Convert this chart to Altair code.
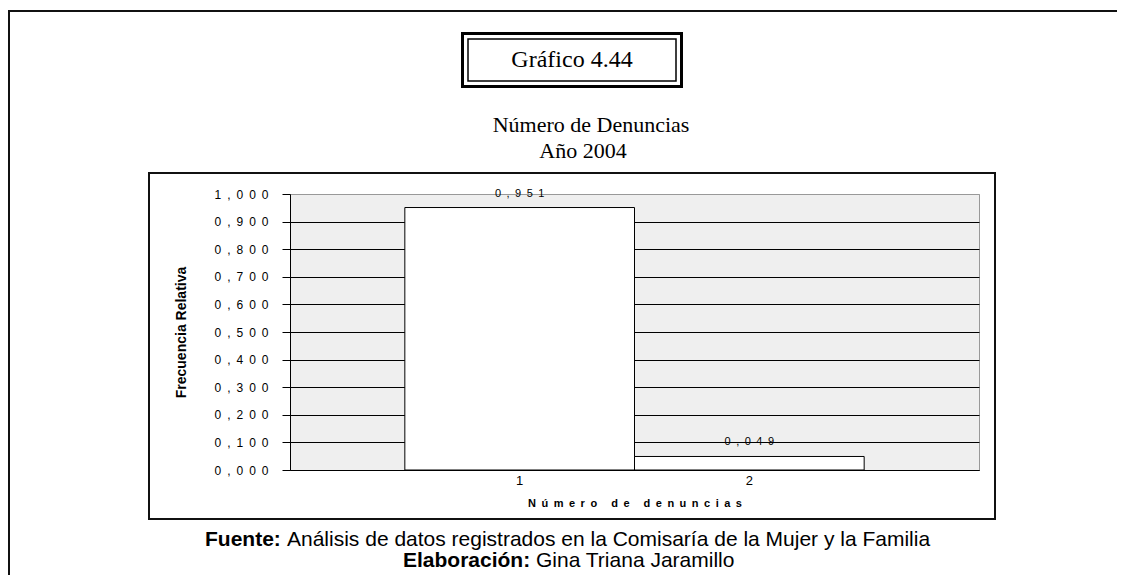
import altair as alt
import pandas as pd

# ---- data ----
categories = ["1", "2"]
frequencies = [0.951, 0.049]
y_ticks = [0.0, 0.1, 0.2, 0.3, 0.4, 0.5, 0.6, 0.7, 0.8, 0.9, 1.0]

chart_label = "Gráfico 4.44"
title_line1 = "Número de Denuncias"
title_line2 = "Año 2004"
x_title = "Número de denuncias"
y_title = "Frecuencia Relativa"
source_bold = "Fuente:"
source_text = "Análisis de datos registrados en la Comisaría de la Mujer y la Familia"
author_bold = "Elaboración:"
author_text = "Gina Triana Jaramillo"

SANS = "Liberation Sans"
SERIF = "Liberation Serif"
EN = "\u2002"

W, H = 689, 276

df = pd.DataFrame({"cat": categories, "val": frequencies})
one = pd.DataFrame({"k": [0]})


def frame(x, x2, y, y2, sw, color="black"):
    return alt.Chart(one).mark_rect(filled=False, stroke=color, strokeWidth=sw).encode(
        x=alt.value(x), x2=alt.value(x2), y=alt.value(y), y2=alt.value(y2)
    )


def label(txt, x, y, size, font=SANS, bold=False, align="center"):
    return alt.Chart(one).mark_text(
        text=txt, font=font, fontSize=size, fontWeight="bold" if bold else "normal",
        align=align, baseline="middle", color="black"
    ).encode(x=alt.value(x), y=alt.value(y))


outer_frame = frame(-281, 900, -183, 450, 2, "#111111")
inner_box = frame(-141, 705, -21, 325, 2, "#111111")
box_outer = frame(172.5, 391.5, -160.5, -107.5, 3)
box_inner = frame(178, 386, -155, -113, 1.5)

y_label_expr = f"join(split(replace(format(datum.value, '.3f'), '.', ','), ''), '{EN}')"
value_expr = f"join(split(replace(format(datum.val, '.3f'), '.', ','), ''), '{EN}')"

base = alt.Chart(df).transform_calculate(lab=value_expr).encode(
    x=alt.X(
        "cat:N",
        sort=categories,
        scale=alt.Scale(paddingInner=0, paddingOuter=0.5),
        axis=alt.Axis(
            title=EN.join(x_title), titleFont=SANS, titleFontSize=11, titleFontWeight="bold",
            titleX=W / 2, titleY=33, titleBaseline="middle", titleAlign="center",
            labelAngle=0, labelFont=SANS, labelFontSize=13, labelColor="black",
            labelPadding=4, ticks=False, domainColor="black", domainWidth=1,
            grid=False,
        ),
    ),
    y=alt.Y(
        "val:Q",
        scale=alt.Scale(domain=[0, 1], nice=False, zero=True),
        axis=alt.Axis(
            values=y_ticks, labelExpr=y_label_expr, labelFont=SANS, labelFontSize=12,
            labelColor="black", labelPadding=14, labelOverlap=False,
            tickSize=8, tickColor="black",
            domainColor="black", domainWidth=1,
            grid=True, gridWidth=1,
            gridColor={"condition": {"test": "datum.value == 1", "value": "#999999"}, "value": "black"},
            title=y_title, titleFont=SANS, titleFontSize=14, titleFontWeight="bold",
            titleAngle=270, titleX=-109, titleY=H / 2, titleAlign="center",
            titleBaseline="middle",
        ),
    ),
)

bars = base.mark_bar(fill="white", stroke="black", strokeWidth=1)
values = base.mark_text(
    font=SANS, fontSize=11, dy=-14, baseline="middle", color="black"
).encode(text="lab:N")

texts = [
    label(chart_label, 282, -134, 24, SERIF),
    label(title_line1, 301, -69, 22, SERIF),
    label(title_line2, 293, -43, 22, SERIF),
    label(source_bold, -85, 346, 21, bold=True, align="left"),
    label(source_text, -3, 346, 21, align="left"),
    label(author_bold, 113, 367, 21, bold=True, align="left"),
    label(author_text, 246, 367, 21, align="left"),
]

chart = alt.layer(
    outer_frame, inner_box, box_outer, box_inner, bars, values, *texts
).properties(
    width=W, height=H,
    autosize=alt.AutoSizeParams(type="none"),
    padding={"left": 282, "top": 186, "right": 138, "bottom": 105},
).configure_view(fill="#efefef", stroke="#999999", strokeWidth=1)

chart.save("out.html", embed_options={"renderer": "svg", "actions": False})
